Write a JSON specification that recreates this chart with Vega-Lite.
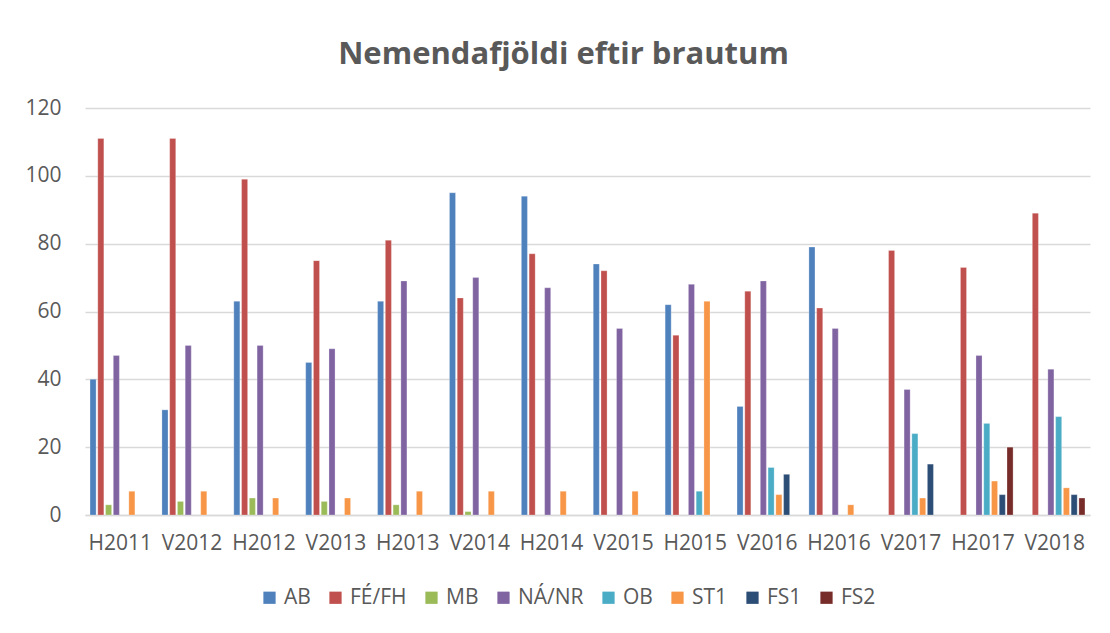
{
  "$schema": "https://vega.github.io/schema/vega-lite/v6.json",
  "width": 1005,
  "height": 407,
  "autosize": {"type": "none"},
  "padding": {"left": 85, "top": 108, "right": 20, "bottom": 118},
  "background": "white",
  "title": {
    "text": "Nemendafjöldi eftir brautum",
    "font": "Open Sans",
    "fontSize": 31,
    "fontWeight": "bold",
    "color": "#595959",
    "anchor": "middle",
    "dx": -24,
    "offset": 26
  },
  "data": {
    "values": [
      {"t": "H2011", "s": "AB", "v": 40}, {"t": "H2011", "s": "FÉ/FH", "v": 111}, {"t": "H2011", "s": "MB", "v": 3}, {"t": "H2011", "s": "NÁ/NR", "v": 47}, {"t": "H2011", "s": "ST1", "v": 7},
      {"t": "V2012", "s": "AB", "v": 31}, {"t": "V2012", "s": "FÉ/FH", "v": 111}, {"t": "V2012", "s": "MB", "v": 4}, {"t": "V2012", "s": "NÁ/NR", "v": 50}, {"t": "V2012", "s": "ST1", "v": 7},
      {"t": "H2012", "s": "AB", "v": 63}, {"t": "H2012", "s": "FÉ/FH", "v": 99}, {"t": "H2012", "s": "MB", "v": 5}, {"t": "H2012", "s": "NÁ/NR", "v": 50}, {"t": "H2012", "s": "ST1", "v": 5},
      {"t": "V2013", "s": "AB", "v": 45}, {"t": "V2013", "s": "FÉ/FH", "v": 75}, {"t": "V2013", "s": "MB", "v": 4}, {"t": "V2013", "s": "NÁ/NR", "v": 49}, {"t": "V2013", "s": "ST1", "v": 5},
      {"t": "H2013", "s": "AB", "v": 63}, {"t": "H2013", "s": "FÉ/FH", "v": 81}, {"t": "H2013", "s": "MB", "v": 3}, {"t": "H2013", "s": "NÁ/NR", "v": 69}, {"t": "H2013", "s": "ST1", "v": 7},
      {"t": "V2014", "s": "AB", "v": 95}, {"t": "V2014", "s": "FÉ/FH", "v": 64}, {"t": "V2014", "s": "MB", "v": 1}, {"t": "V2014", "s": "NÁ/NR", "v": 70}, {"t": "V2014", "s": "ST1", "v": 7},
      {"t": "H2014", "s": "AB", "v": 94}, {"t": "H2014", "s": "FÉ/FH", "v": 77}, {"t": "H2014", "s": "NÁ/NR", "v": 67}, {"t": "H2014", "s": "ST1", "v": 7},
      {"t": "V2015", "s": "AB", "v": 74}, {"t": "V2015", "s": "FÉ/FH", "v": 72}, {"t": "V2015", "s": "NÁ/NR", "v": 55}, {"t": "V2015", "s": "ST1", "v": 7},
      {"t": "H2015", "s": "AB", "v": 62}, {"t": "H2015", "s": "FÉ/FH", "v": 53}, {"t": "H2015", "s": "NÁ/NR", "v": 68}, {"t": "H2015", "s": "OB", "v": 7}, {"t": "H2015", "s": "ST1", "v": 63},
      {"t": "V2016", "s": "AB", "v": 32}, {"t": "V2016", "s": "FÉ/FH", "v": 66}, {"t": "V2016", "s": "NÁ/NR", "v": 69}, {"t": "V2016", "s": "OB", "v": 14}, {"t": "V2016", "s": "ST1", "v": 6}, {"t": "V2016", "s": "FS1", "v": 12},
      {"t": "H2016", "s": "AB", "v": 79}, {"t": "H2016", "s": "FÉ/FH", "v": 61}, {"t": "H2016", "s": "NÁ/NR", "v": 55}, {"t": "H2016", "s": "ST1", "v": 3},
      {"t": "V2017", "s": "FÉ/FH", "v": 78}, {"t": "V2017", "s": "NÁ/NR", "v": 37}, {"t": "V2017", "s": "OB", "v": 24}, {"t": "V2017", "s": "ST1", "v": 5}, {"t": "V2017", "s": "FS1", "v": 15},
      {"t": "H2017", "s": "FÉ/FH", "v": 73}, {"t": "H2017", "s": "NÁ/NR", "v": 47}, {"t": "H2017", "s": "OB", "v": 27}, {"t": "H2017", "s": "ST1", "v": 10}, {"t": "H2017", "s": "FS1", "v": 6}, {"t": "H2017", "s": "FS2", "v": 20},
      {"t": "V2018", "s": "FÉ/FH", "v": 89}, {"t": "V2018", "s": "NÁ/NR", "v": 43}, {"t": "V2018", "s": "OB", "v": 29}, {"t": "V2018", "s": "ST1", "v": 8}, {"t": "V2018", "s": "FS1", "v": 6}, {"t": "V2018", "s": "FS2", "v": 5}
    ]
  },
  "mark": {"type": "bar", "stroke": "white", "strokeOpacity": 0.5, "strokeWidth": 0.5},
  "encoding": {
    "x": {
      "field": "t",
      "type": "nominal",
      "sort": null,
      "scale": {"paddingInner": 0.16, "paddingOuter": 0.07},
      "axis": {"title": null, "labelAngle": 0, "ticks": false, "domainColor": "#d9d9d9", "domainWidth": 1.5, "labelPadding": 17}
    },
    "xOffset": {
      "field": "s",
      "type": "nominal",
      "scale": {"domain": ["AB", "FÉ/FH", "MB", "NÁ/NR", "OB", "ST1", "FS1", "FS2"], "paddingInner": 0.22}
    },
    "y": {
      "field": "v",
      "type": "quantitative",
      "scale": {"domain": [0, 120]},
      "axis": {"title": null, "values": [0, 20, 40, 60, 80, 100, 120], "domain": false, "ticks": false, "gridColor": "#d9d9d9", "gridWidth": 1.3, "labelPadding": 24}
    },
    "color": {
      "field": "s",
      "type": "nominal",
      "scale": {
        "domain": ["AB", "FÉ/FH", "MB", "NÁ/NR", "OB", "ST1", "FS1", "FS2"],
        "range": ["#4f81bd", "#c0504d", "#9bbb59", "#8064a2", "#4bacc6", "#f79646", "#2c4d75", "#772c2a"]
      },
      "legend": {
        "title": null,
        "orient": "none",
        "direction": "horizontal",
        "legendX": 174,
        "legendY": 479,
        "symbolType": "square",
        "symbolSize": 150,
        "symbolStrokeWidth": 0,
        "columnPadding": 14,
        "labelFontSize": 21,
        "labelFont": "Open Sans",
        "labelColor": "#595959",
        "labelOffset": 4
      }
    }
  },
  "config": {
    "view": {"stroke": null},
    "axis": {"labelFont": "Open Sans", "labelFontSize": 21, "labelColor": "#595959"}
  }
}
